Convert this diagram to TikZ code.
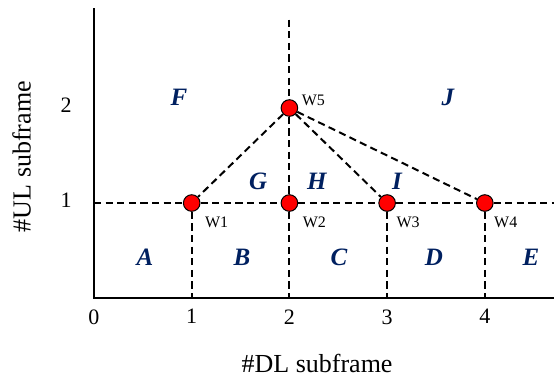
\documentclass[tikz,border=0pt]{standalone}
\usepackage{fontspec}
\setmainfont{Liberation Serif}
\definecolor{regblue}{RGB}{0,32,96}
\tikzset{
  axisline/.style={line width=1.35pt},
  gridline/.style={line width=1pt, dash pattern=on 3.6pt off 2.2pt},
  wpt/.style={circle, draw=black, line width=0.5pt, fill=red, minimum size=8.3pt, inner sep=0pt},
  wlab/.style={inner sep=0pt, anchor=north west, font=\fontsize{8}{9}\selectfont},
  region/.style={inner sep=0pt, text=regblue, font=\fontsize{12.5}{14}\selectfont\bfseries\itshape},
  ticklab/.style={inner sep=0pt, font=\fontsize{11}{13}\selectfont},
  axlab/.style={inner sep=0pt, font=\fontsize{13}{15}\selectfont}
}
\begin{document}
\begin{tikzpicture}[x=48.85pt,y=47.5pt]
 \useasboundingbox (-0.962,-0.821) rectangle (4.708,3.137);
 \coordinate (o) at (0,0);
 \coordinate (ytop) at (0,3.05);
 \coordinate (xend) at (4.708,0);
 \coordinate (y1) at (0,1);
 \coordinate (x1end) at (4.708,1);
 \coordinate (vtop) at (2,2.93);
 \foreach \i in {1,...,4} \coordinate (b\i) at (\i,0);
 \node[wpt] (w1) at (1,1) {};
 \node[wpt] (w2) at (2,1) {};
 \node[wpt] (w3) at (3,1) {};
 \node[wpt] (w4) at (4,1) {};
 \node[wpt] (w5) at (2,2) {};
 \draw[gridline] (y1) -- (w1) -- (w2) -- (w3) -- (w4) -- (x1end);
 \draw[gridline] (vtop) -- (w5) -- (w2) -- (b2);
 \draw[gridline] (w1) -- (b1);
 \draw[gridline] (w3) -- (b3);
 \draw[gridline] (w4) -- (b4);
 \draw[gridline] (w5) -- (w1);
 \draw[gridline] (w5) -- (w3);
 \draw[gridline] (w5) -- (w4);
 \draw[axisline] (ytop) -- (o) -- (xend);
 \foreach \i in {0,...,4} \node[ticklab, anchor=north] (xt\i) at ([yshift=-5.5pt]\i,0) {\i};
 \foreach \i in {1,2} \node[ticklab, anchor=east] (yt\i) at ([xshift=-11pt,yshift=1.5pt]0,\i) {\i};
 \node[wlab] (t1) at ([shift={(6.5pt,-6.8pt)}]w1.center) {W1};
 \node[wlab] (t2) at ([shift={(6.5pt,-6.8pt)}]w2.center) {W2};
 \node[wlab] (t3) at ([shift={(4.5pt,-6.8pt)}]w3.center) {W3};
 \node[wlab] (t4) at ([shift={(4.5pt,-6.8pt)}]w4.center) {W4};
 \node[wlab] (t5) at ([shift={(6pt,6.5pt)}]w5.center) {W5};
 \node[region] (ra) at (0.522,0.432) {A};
 \node[region] (rb) at (1.515,0.432) {B};
 \node[region] (rc) at (2.508,0.432) {C};
 \node[region] (rd) at (3.48,0.432) {D};
 \node[region] (re) at (4.473,0.432) {E};
 \node[region] (rf) at (0.87,2.116) {F};
 \node[region] (rg) at (1.679,1.232) {G};
 \node[region] (rh) at (2.282,1.232) {H};
 \node[region] (ri) at (3.101,1.232) {I};
 \node[region] (rj) at (3.623,2.116) {J};
 \node[axlab] (xlab) at (2.283,-0.69) {\#DL subframe};
 \node[axlab, rotate=90] (ylab) at (-0.74,1.489) {\#UL subframe};
\end{tikzpicture}
\end{document}
